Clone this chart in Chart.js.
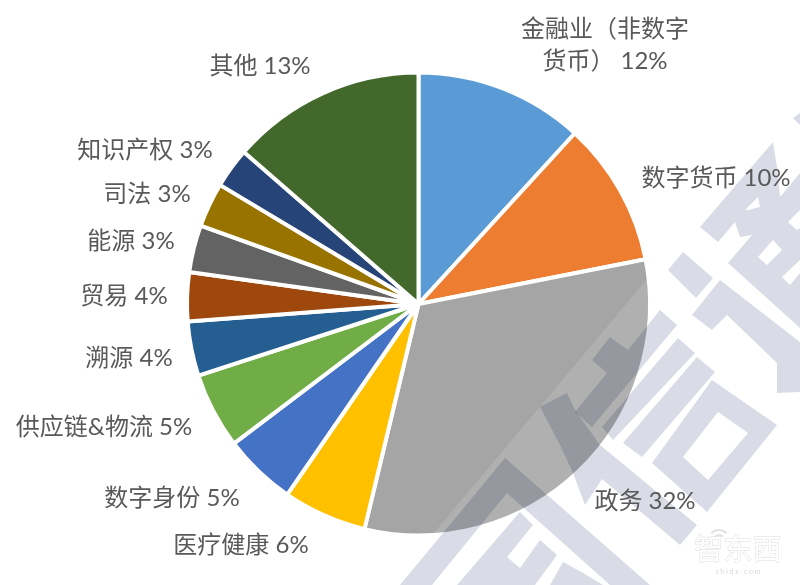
<!DOCTYPE html>
<html>
<head>
<meta charset="utf-8">
<style>
    html, body { margin: 0; padding: 0; background: #fff; }
    canvas { display: block; }
</style>
<script src="https://cdn.jsdelivr.net/npm/chart.js@4/dist/chart.umd.js"></script>
</head>
<body>
<canvas id="pie-chart" width="800" height="585"></canvas>
<script>
// Chart data
const categories = ['金融业（非数字货币）', '数字货币', '政务', '医疗健康', '数字身份', '供应链&物流', '溯源', '贸易', '能源', '司法', '知识产权', '其他'];
// Printed percentages
const shares = [12, 10, 32, 6, 5, 5, 4, 4, 3, 3, 3, 13];
// Slice sizes (the printed labels are rounded)
const sliceValues = [11.8, 10.1, 31.85, 5.85, 5.1, 5.3, 3.8, 3.4, 3.3, 3.1, 2.8, 13.6];
const sliceColors = ['#5B9BD5', '#ED7D31', '#A5A5A5', '#FFC000', '#4472C4', '#70AD47', '#255E91', '#9E480E', '#636363', '#997300', '#264478', '#43682B'];

// Label centres, same order as categories
const labelCenters = [[605, 45], [716, 178], [645, 501], [241, 545], [172, 498], [104, 427], [129, 358], [124, 296], [131, 241], [147, 194], [145, 150], [260, 66]];

// Background watermark shapes, each list is one filled path (holes use evenodd)
const watermark = [
    [[[700,227],[773,142],[777,167],[780,197],[800,173],[800,328],[728,263],[752,235],[740,237],[735,222],[718,242]],
     [[745,210],[758,197],[760,207],[748,210]],
     [[758,257],[773,240],[782,250],[767,265]],
     [[782,277],[800,260],[800,273],[790,285]],
     [[788,222],[800,210],[800,228],[797,230]]],
    [[[793,118],[800,113],[800,125]]],
    [[[668,270],[683,252],[713,278],[696,298]]],
    [[[692,315],[720,280],[800,342],[800,392],[777,393],[777,363],[727,315],[712,330]]],
    [[[592,360],[610,337],[628,350],[660,310],[677,325],[592,427],[575,412],[607,373]]],
    [[[678,338],[695,353],[613,440],[602,427]]],
    [[[697,357],[715,372],[642,457],[623,443]]],
    [[[712,380],[777,425],[707,512],[652,463]],
     [[718,412],[748,433],[708,480],[683,457]]],
    [[[540,407],[567,393],[575,410],[600,445],[697,525],[680,545],[602,479],[585,505],[573,473],[560,445]]],
    [[[400,585],[505,458],[650,585],[610,585],[507,493],[432,585]]],
    [[[457,585],[520,512],[533,525],[507,557],[520,568],[540,540],[557,555],[535,585]]],
    [[[550,585],[563,562],[583,573],[603,585]]]
];

// Draws the watermark over the pie, with the lighter patch on the grey slice
const watermarkPlugin = {
    id: 'watermark',
    afterDatasetsDraw(chart) {
        const ctx = chart.ctx;
        const arc = chart.getDatasetMeta(0).data[2];

        ctx.save();
        ctx.beginPath();
        ctx.arc(arc.x, arc.y, arc.outerRadius - 2, arc.startAngle, arc.endAngle);
        ctx.lineTo(arc.x, arc.y);
        ctx.closePath();
        ctx.clip();
        ctx.fillStyle = 'rgba(255, 255, 255, 0.13)';
        ctx.beginPath();
        ctx.moveTo(648, 278);
        ctx.lineTo(650, 540);
        ctx.lineTo(428, 540);
        ctx.closePath();
        ctx.fill();
        ctx.restore();

        ctx.save();
        ctx.globalCompositeOperation = 'multiply';
        ctx.filter = 'blur(0.6px)';
        ctx.fillStyle = '#D9DCE6';
        watermark.forEach(shape => {
            ctx.beginPath();
            shape.forEach(ring => {
                ring.forEach((p, i) => i ? ctx.lineTo(p[0], p[1]) : ctx.moveTo(p[0], p[1]));
                ctx.closePath();
            });
            ctx.fill('evenodd');
        });
        ctx.restore();
    }
};

// Slice labels and the site logo
const labelPlugin = {
    id: 'sliceLabels',
    afterDraw(chart) {
        const ctx = chart.ctx;
        ctx.save();
        ctx.textAlign = 'center';
        ctx.textBaseline = 'middle';
        ctx.font = '24px Lato, "Noto Sans CJK SC"';
        ctx.fillStyle = '#595959';
        categories.forEach((name, i) => {
            const text = name + ' ' + shares[i] + '%';
            const [x, y] = labelCenters[i];
            if (i === 0) {
                // first label wraps onto two lines
                ctx.fillText(text.slice(0, 7), x, y - 16);
                ctx.fillText(text.slice(7), x, y + 16);
            } else {
                ctx.fillText(text, x, y);
            }
        });

        // logo
        ctx.font = '29px "Noto Sans CJK SC"';
        ctx.fillStyle = '#ffffff';
        ctx.strokeStyle = '#DDDDDD';
        ctx.lineWidth = 1;
        ctx.strokeText('智东西', 738, 549);
        ctx.fillText('智东西', 738, 549);
        ctx.lineWidth = 1.5;
        [6, 11].forEach(r => {
            ctx.beginPath();
            ctx.arc(719, 541, r, Math.PI * 1.25, Math.PI * 1.75);
            ctx.stroke();
        });
        ctx.font = '7px Lato';
        ctx.fillStyle = '#DADADA';
        ctx.fillText('z h i d x . c o m', 738, 572);
        ctx.restore();
    }
};

// Initialize chart
const pieCtx = document.getElementById('pie-chart').getContext('2d');
new Chart(pieCtx, {
    type: 'pie',
    data: {
        labels: categories,
        datasets: [{
            data: sliceValues,
            backgroundColor: sliceColors,
            borderColor: '#ffffff',
            borderWidth: 4
        }]
    },
    options: {
        responsive: false,
        animation: false,
        radius: 231.5,
        layout: { padding: { left: 37, top: 23 } },
        plugins: {
            legend: { display: false },
            tooltip: { enabled: false }
        }
    },
    plugins: [watermarkPlugin, labelPlugin]
});
</script>
</body>
</html>
